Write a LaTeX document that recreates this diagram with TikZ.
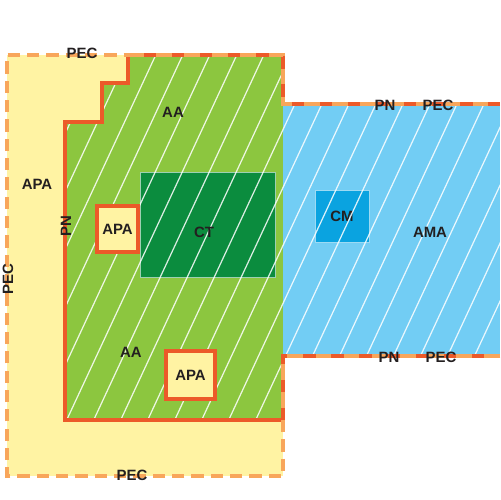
\documentclass[tikz,border=0pt]{standalone}
\usepackage{fontspec}
\setmainfont{Liberation Sans}

\definecolor{zoneyellow}{HTML}{FFF3A3}
\definecolor{zonegreen}{HTML}{8CC63F}
\definecolor{zoneblue}{HTML}{72CDF4}
\definecolor{ctgreen}{HTML}{0B8C3E}
\definecolor{cmblue}{HTML}{0AA3E0}
\definecolor{pnred}{HTML}{EC5A29}
\definecolor{pecorange}{HTML}{F8A65B}
\definecolor{labeltext}{HTML}{231F20}

\tikzset{
	lbl/.style={font=\bfseries\fontsize{8.5}{9}\selectfont, text=labeltext, inner sep=0pt},
	apabox/.style={lbl, draw=pnred, line width=2.3pt, fill=zoneyellow},
	pnline/.style={draw=pnred, line width=2.3pt},
	pecline/.style={draw=pecorange, line width=2.3pt, dash pattern=on 7pt off 4pt},
	bothline/.style={draw=pnred, line width=2.3pt, postaction={draw=pecorange, dash pattern=on 9pt off 7pt}},
	hatch/.style={draw=white, line width=0.7pt, opacity=0.85}
}

\begin{document}
\begin{tikzpicture}[x=0.02cm,y=-0.02cm]
\useasboundingbox (0,0) rectangle (500,500);
% zones
\fill[zoneyellow] (7,55) rectangle (283,476);
\fill[zonegreen] (65,420) -- (65,122) -- (102,122) -- (102,83) -- (128,83) -- (128,55) -- (283,55) -- (283,420) -- cycle;
\fill[zoneblue] (283,104) rectangle (500,356);
\node[fill=ctgreen, draw=ctgreen!40!white, line width=0.5pt, minimum width=2.7cm, minimum height=2.1cm, inner sep=0pt] (ct) at (207.5,224.5) {};
\node[lbl, fill=cmblue, draw=cmblue!40!white, line width=0.5pt, minimum width=1.08cm, minimum height=1.04cm] (cm) at (342,216) {CM};
% hatching
\begin{scope}
\clip (65,420) -- (65,122) -- (102,122) -- (102,83) -- (128,83) -- (128,55) -- (283,55) -- (283,420) -- cycle (283,104) rectangle (500,356);
\foreach \k in {-11,...,15} {
	\draw[hatch] ({110.4+27*\k},500) -- ({343.4+27*\k},0);
}
\end{scope}
\node[apabox, minimum width=0.82cm, minimum height=0.92cm] (apaa) at (117.5,229) {APA};
\node[apabox, minimum width=0.98cm, minimum height=0.96cm] (apab) at (190.5,375) {APA};
% borders
\draw[pnline] (283,420) -- (65,420) -- (65,122) -- (102,122) -- (102,83) -- (128,83) -- (128,55);
\draw[pecline] (283,420) -- (283,476) -- (7,476) -- (7,55) -- (128,55);
\draw[bothline] (128,55) -- (283,55) -- (283,104) -- (500,104);
\draw[bothline] (500,356) -- (283,356) -- (283,420);
% labels
\node[lbl] (pectop) at (82,53) {PEC};
\node[lbl] (apaleft) at (37,184) {APA};
\node[lbl, rotate=90] (pnleft) at (66,226) {PN};
\node[lbl, rotate=90] (pecleft) at (8,279) {PEC};
\node[lbl] (aatop) at (173,112) {AA};
\node[lbl] (ctlabel) at (204,232) {CT};
\node[lbl] (aabottom) at (131,352) {AA};
\node[lbl] (pecbottom) at (132,475) {PEC};
\node[lbl] (ama) at (430,232) {AMA};
\node[lbl] (pnupper) at (385,105) {PN};
\node[lbl] (pecupper) at (438,105) {PEC};
\node[lbl] (pnlower) at (389,357) {PN};
\node[lbl] (peclower) at (441,357) {PEC};
\end{tikzpicture}
\end{document}
